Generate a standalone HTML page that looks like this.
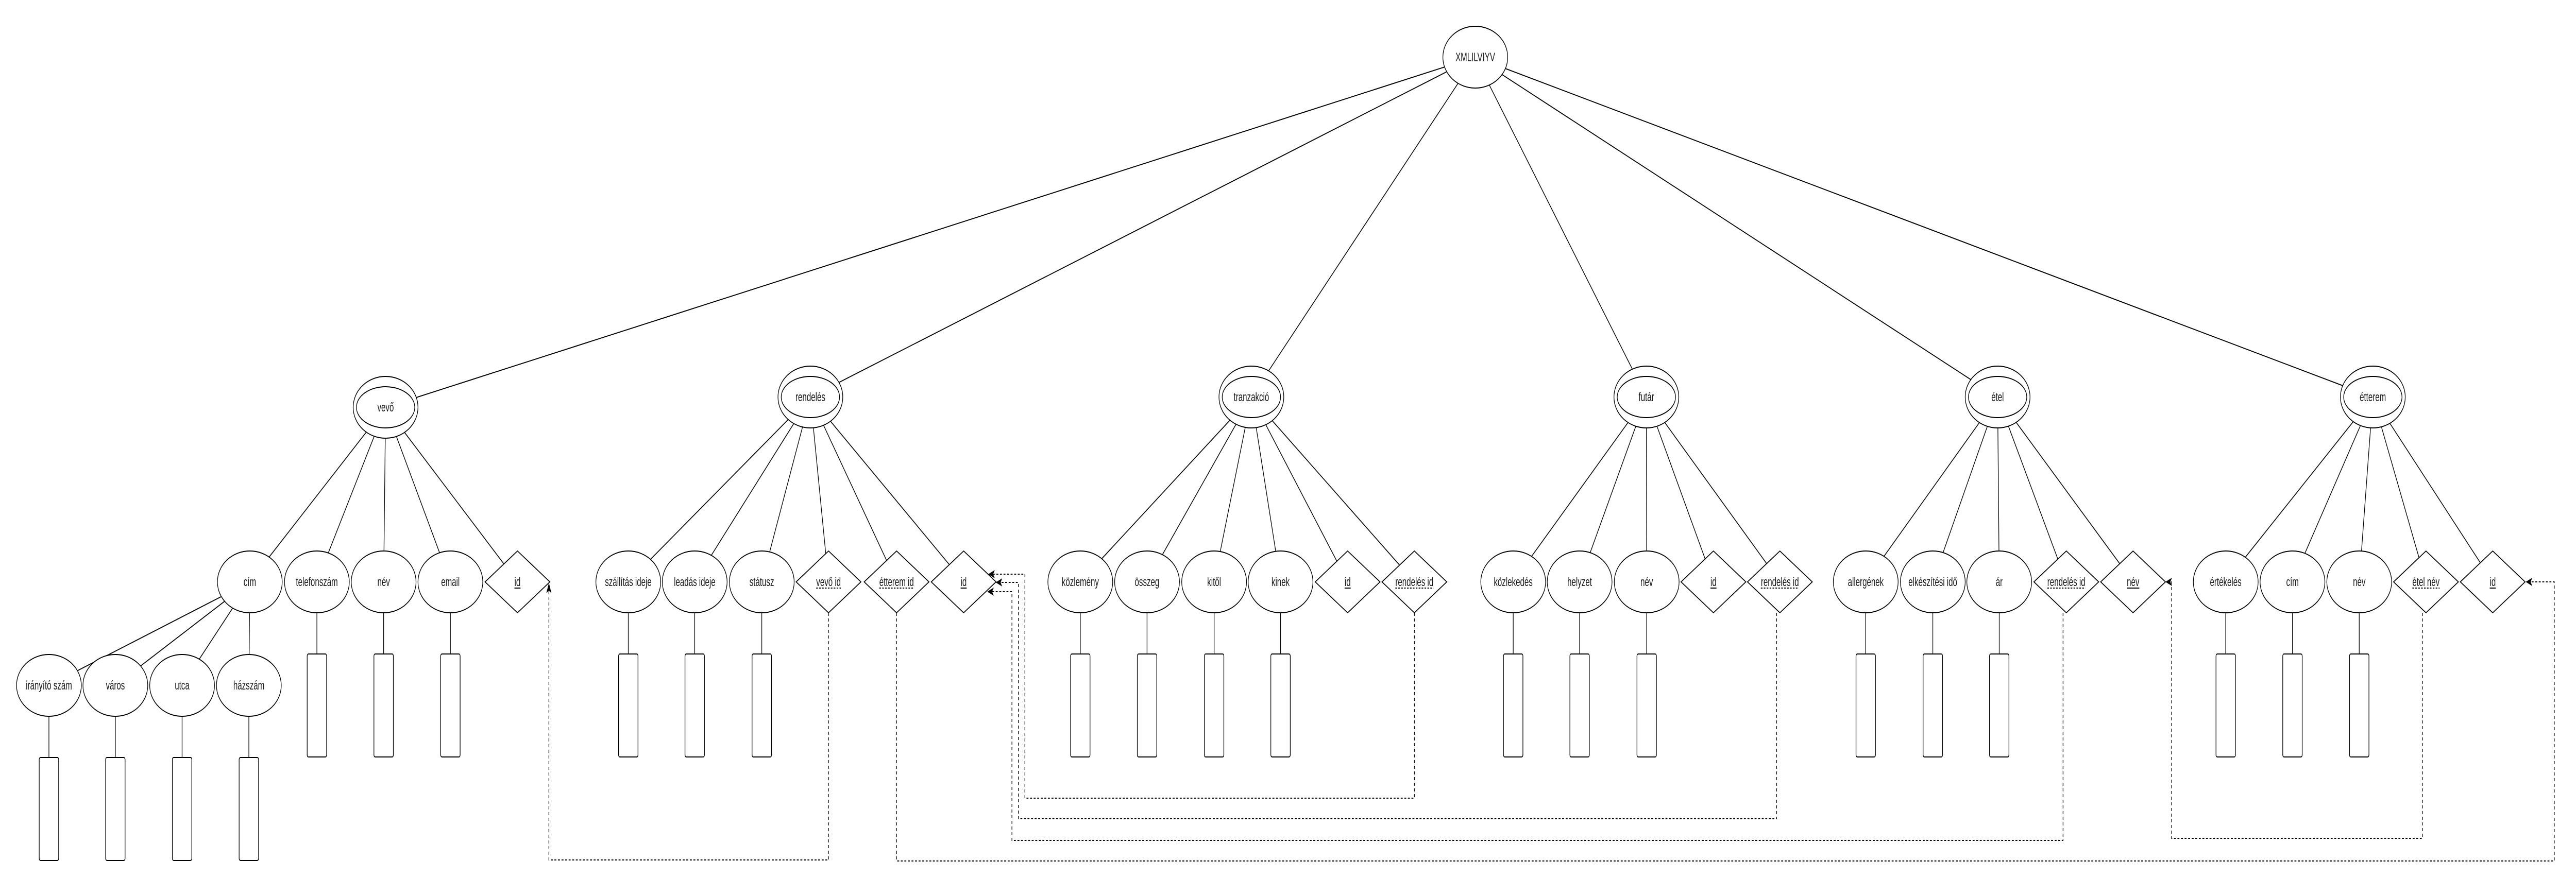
<!DOCTYPE html>
<html><head><meta charset="utf-8"><style>
html,body{margin:0;padding:0;background:#fff;overflow:hidden;width:100vw;height:100vh;}
svg{display:block;width:100vw;height:100vh;}
text{font-family:"Liberation Sans",Arial,sans-serif;font-size:24px;fill:#1a1a1a;}
</style></head><body>
<svg id="s" xmlns="http://www.w3.org/2000/svg" viewBox="0 0 7950 1740" preserveAspectRatio="none">
<defs>
<marker id="ar" viewBox="0 0 20 16" refX="18" refY="8" markerWidth="20" markerHeight="16" markerUnits="userSpaceOnUse" orient="auto">
<path d="M0,0 L20,8 L0,16 L5,8 Z" fill="#000"/>
</marker>
</defs>
<g id="g"></g>
</svg>
<script>
var NS="http://www.w3.org/2000/svg",G=document.getElementById('g');
function el(t,a,txt){var e=document.createElementNS(NS,t);for(var k in a)e.setAttribute(k,a[k]);if(txt!==undefined)e.textContent=txt;G.appendChild(e);return e;}
function clip(n,dx,dy){var t;if(n.t=='d'){t=1/(Math.abs(dx)/100+Math.abs(dy)/60);}else{t=1/Math.sqrt(dx*dx/(n.rx*n.rx)+dy*dy/(n.ry*n.ry));}return [n.x+dx*t,n.y+dy*t];}
function link(a,b){var dx=b.x-a.x,dy=b.y-a.y;var p=clip(a,dx,dy),q=clip(b,-dx,-dy);
el('line',{x1:p[0],y1:p[1],x2:q[0],y2:q[1],stroke:'#000','stroke-width':2});}
function label(x,y,s,u){var t=el('text',{x:x,y:y+8,'text-anchor':'middle'},s);
if(u){var w=t.getComputedTextLength();var ly=y+12;
el('line',{x1:x-w/2,y1:ly,x2:x+w/2,y2:ly,stroke:'#000','stroke-width':2,'stroke-dasharray':u=='s'?'none':'5 4'});}}
var ROOT={x:4553,y:111,rx:100,ry:60,t:'e'};
el('ellipse',{cx:4553,cy:111,rx:100,ry:60,fill:'#fff',stroke:'#000','stroke-width':2});
var AY=1130,EY=771;
var ents=[
 {n:'vevő',x:1190,y:791,ch:[['cím',771,'e',0],['telefonszám',978,'e',1],['név',1184,'e',1],['email',1390,'e',1],['id',1597,'d','s']]},
 {n:'rendelés',x:2501,y:EY,ch:[['szállítás ideje',1939,'e',1],['leadás ideje',2144,'e',1],['státusz',2351,'e',1],['vevő id',2557,'d','f'],['étterem id',2767,'d','f'],['id',2974,'d','s']]},
 {n:'tranzakció',x:3862,y:EY,ch:[['közlemény',3334,'e',1],['összeg',3540,'e',1],['kitől',3747,'e',1],['kinek',3952,'e',1],['id',4159,'d','s'],['rendelés id',4365,'d','f']]},
 {n:'futár',x:5081,y:EY,ch:[['közlekedés',4670,'e',1],['helyzet',4875,'e',1],['név',5082,'e',1],['id',5288,'d','s'],['rendelés id',5493,'d','f']]},
 {n:'étel',x:6165,y:EY,ch:[['allergének',5758,'e',1],['elkészítési idő',5965,'e',1],['ár',6170,'e',1],['rendelés id',6377,'d','f'],['név',6583,'d','s']]},
 {n:'étterem',x:7323,y:EY,ch:[['értékelés',6869,'e',1],['cím',7075,'e',1],['név',7281,'e',1],['étel név',7487,'d','f'],['id',7693,'d','s']]}
];
var shapes=[];
function rect(x,top){el('rect',{x:x-30,y:top,width:60,height:200,rx:4,fill:'#fff',stroke:'#000','stroke-width':2});}
ents.forEach(function(E){
 var en={x:E.x,y:E.y,rx:100,ry:60,t:'e'};
 link(ROOT,en);
 shapes.push(function(){
  el('ellipse',{cx:E.x,cy:E.y,rx:100,ry:60,fill:'#fff',stroke:'#000','stroke-width':2});
  el('ellipse',{cx:E.x,cy:E.y,rx:90,ry:40,fill:'#fff',stroke:'#000','stroke-width':2});
  label(E.x,E.y,E.n);
 });
 E.ch.forEach(function(c){
  var cn={x:c[1],y:AY,rx:100,ry:60,t:c[2]};
  link(en,cn);
  if(c[2]=='e'&&c[3]===1){el('line',{x1:c[1],y1:AY+60,x2:c[1],y2:AY+140,stroke:'#000','stroke-width':2});rect(c[1],AY+140);}
  shapes.push(function(){
   if(c[2]=='e'){el('ellipse',{cx:c[1],cy:AY,rx:100,ry:60,fill:'#fff',stroke:'#000','stroke-width':2});label(c[1],AY,c[0]);}
   else{var x=c[1];el('path',{d:'M'+(x-100)+','+AY+' L'+x+','+(AY-60)+' L'+(x+100)+','+AY+' L'+x+','+(AY+60)+' Z',fill:'#fff',stroke:'#000','stroke-width':2});label(x,AY,c[0],c[3]);}
  });
 });
});
var cim={x:771,y:AY,rx:100,ry:60,t:'e'},R2=1331;
[['irányító szám',151],['város',356],['utca',562],['házszám',768]].forEach(function(c){
 link(cim,{x:c[1],y:R2,rx:100,ry:60,t:'e'});
 el('line',{x1:c[1],y1:R2+60,x2:c[1],y2:R2+140,stroke:'#000','stroke-width':2});rect(c[1],R2+140);
 shapes.push(function(){el('ellipse',{cx:c[1],cy:R2,rx:100,ry:60,fill:'#fff',stroke:'#000','stroke-width':2});label(c[1],R2,c[0]);});
});
var D=[
 'M2557,1190 V1670 H1694 V1134',
 'M2767,1190 V1672 H7883 V1130 H7797',
 'M4365,1190 V1550 H3163 V1115 H3052',
 'M5483,1190 V1590 H3143 V1131 H3075',
 'M6367,1190 V1632 H3123 V1149 H3049',
 'M7476,1190 V1628 H6702 V1130 H6685'
];
shapes.forEach(function(f){f();});
el('text',{x:4553,y:119,'text-anchor':'middle'},'XMLILVIYV');
D.forEach(function(d){el('path',{d:d,fill:'none',stroke:'#000','stroke-width':2,'stroke-dasharray':'6 5','marker-end':'url(#ar)'});});
</script>
</body></html>
